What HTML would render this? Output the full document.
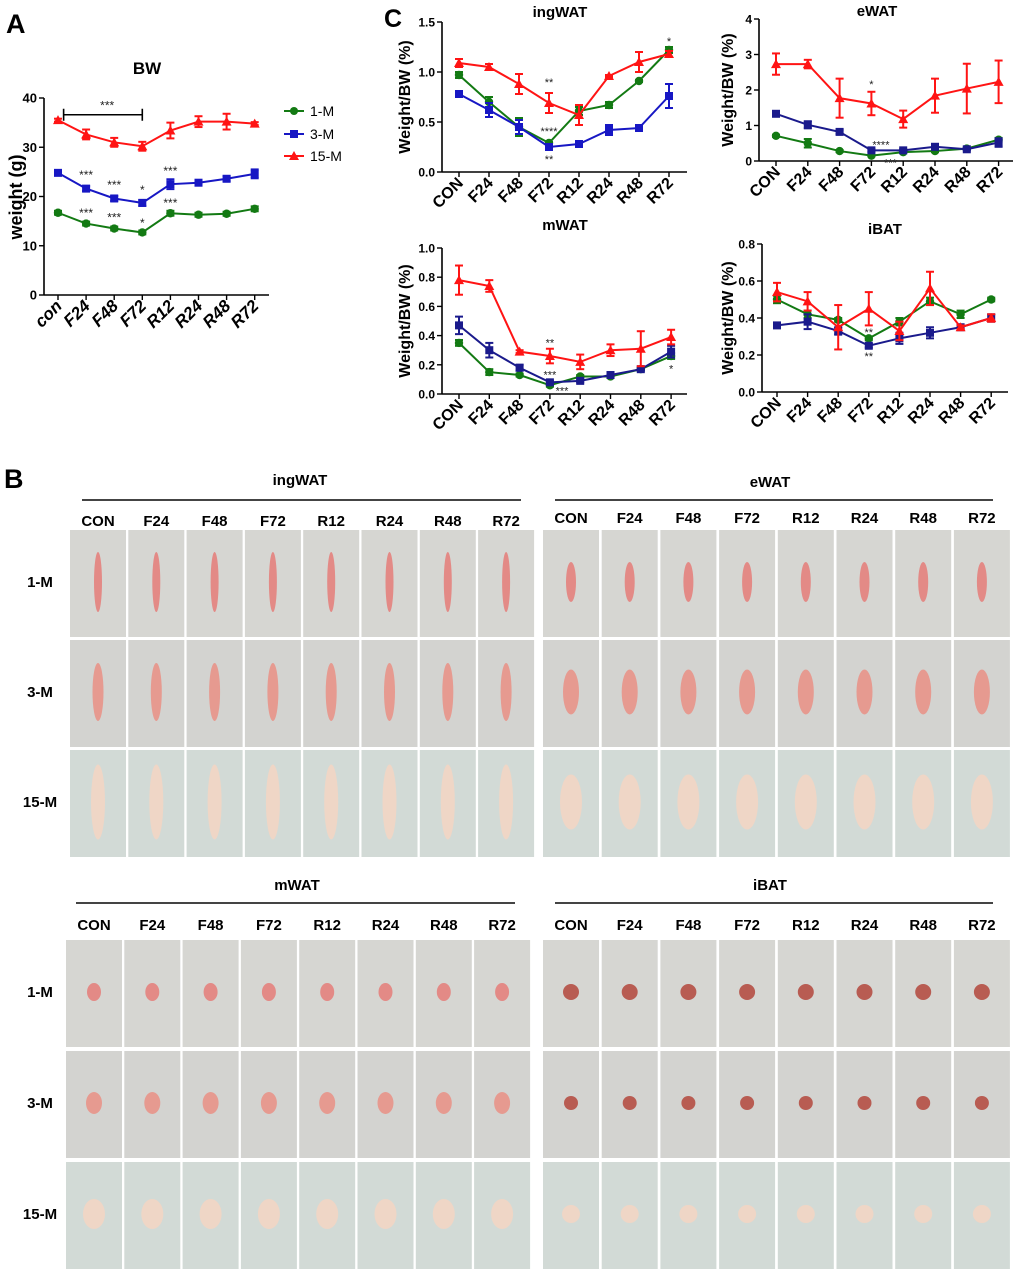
<!DOCTYPE html>
<html><head><meta charset="utf-8">
<style>
html,body{margin:0;padding:0;background:#fff;}
svg{display:block;font-family:"Liberation Sans",Arial,sans-serif;}
</style></head>
<body>
<svg id="fig" width="1020" height="1274" viewBox="0 0 1020 1274" xmlns="http://www.w3.org/2000/svg">
<rect width="1020" height="1274" fill="#fff"/>
<text x="6" y="33" font-size="27" font-weight="bold">A</text>
<text x="384" y="27" font-size="25" font-weight="bold">C</text>
<text x="4" y="488" font-size="27" font-weight="bold">B</text>
<g id="charts"></g>
<g id="photos"></g>
</svg>
<script>
const NS='http://www.w3.org/2000/svg';
const catsA=['con','F24','F48','F72','R12','R24','R48','R72'];
const catsC=['CON','F24','F48','F72','R12','R24','R48','R72'];
const seriesNames=['1-M','3-M','15-M'];
// Panel A: BW
const bw1=[16.7,14.5,13.5,12.7,16.6,16.3,16.5,17.5];
const bw1e=[0.4,0.4,0.4,0.4,0.5,0.4,0.4,0.5];
const bw3=[24.8,21.6,19.6,18.7,22.5,22.8,23.6,24.6];
const bw3e=[0.5,0.5,0.5,0.6,1.0,0.5,0.5,0.9];
const bw15=[35.5,32.6,31.0,30.2,33.4,35.2,35.2,34.8];
const bw15e=[0.3,1.0,0.9,0.9,1.6,1.1,1.6,0.3];
const bwTicks=[0,10,20,30,40];
// ingWAT
const ing1=[0.97,0.70,0.45,0.29,0.61,0.67,0.91,1.22];
const ing1e=[0.03,0.05,0.09,0.01,0.04,0.03,0.01,0.03];
const ing3=[0.78,0.62,0.45,0.25,0.28,0.42,0.44,0.76];
const ing3e=[0.03,0.07,0.07,0.02,0.02,0.05,0.03,0.12];
const ing15=[1.09,1.05,0.88,0.69,0.57,0.96,1.10,1.18];
const ing15e=[0.04,0.03,0.10,0.10,0.10,0.01,0.10,0.03];
const ingTicks=[0,0.5,1.0,1.5];
// eWAT
const ew1=[0.71,0.50,0.28,0.15,0.25,0.28,0.35,0.60];
const ew1e=[0.03,0.12,0.03,0.02,0.03,0.03,0.03,0.05];
const ew3=[1.33,1.02,0.82,0.30,0.30,0.40,0.33,0.52];
const ew3e=[0.04,0.10,0.06,0.04,0.03,0.08,0.03,0.12];
const ew15=[2.73,2.73,1.77,1.62,1.18,1.84,2.04,2.23];
const ew15e=[0.30,0.12,0.55,0.33,0.24,0.48,0.70,0.60];
const ewTicks=[0,1,2,3,4];
// mWAT
const mw1=[0.35,0.15,0.13,0.06,0.12,0.12,0.17,0.26];
const mw1e=[0.02,0.02,0.01,0.01,0.01,0.01,0.01,0.02];
const mw3=[0.47,0.30,0.18,0.08,0.09,0.13,0.17,0.29];
const mw3e=[0.06,0.05,0.02,0.01,0.01,0.01,0.01,0.04];
const mw15=[0.78,0.74,0.29,0.26,0.22,0.30,0.31,0.39];
const mw15e=[0.10,0.04,0.01,0.05,0.05,0.04,0.12,0.05];
const mwTicks=[0,0.2,0.4,0.6,0.8,1.0];
// iBAT
const ib1=[0.50,0.42,0.39,0.29,0.38,0.49,0.42,0.50];
const ib1e=[0.02,0.02,0.01,0.01,0.02,0.02,0.02,0.01];
const ib3=[0.36,0.38,0.33,0.25,0.29,0.32,0.35,0.40];
const ib3e=[0.01,0.04,0.02,0.01,0.03,0.03,0.01,0.02];
const ib15=[0.54,0.49,0.35,0.45,0.33,0.56,0.35,0.40];
const ib15e=[0.05,0.05,0.12,0.09,0.05,0.09,0.01,0.02];
const ibTicks=[0,0.2,0.4,0.6,0.8];

const G='#137a13',B='#1717c4',R='#ff1414';
const root=document.getElementById('charts');
function el(tag,attrs,parent){const e=document.createElementNS(NS,tag);for(const k in attrs)e.setAttribute(k,attrs[k]);(parent||root).appendChild(e);return e;}
function txt(s,attrs,parent){const e=el('text',attrs,parent);e.textContent=s;return e;}

function chart(o){
  const g=el('g',{});
  
  
  const vmax=o.ticks[o.ticks.length-1];
  const ys=v=>o.y0-(v/vmax)*(o.y0-o.yTop);
  const xs=i=>o.cx0+i*o.step;
  const ya=el('line',{x1:o.ax,y1:o.yTop,x2:o.ax,y2:o.y0,stroke:'#000','stroke-width':1.6},g);
  
  
  const xa=el('line',{x1:o.ax,y1:o.y0,x2:o.axEnd,y2:o.y0,stroke:'#000','stroke-width':1.6},g);
  
  
  o.ticks.forEach(t=>{
    el('line',{x1:o.ax-5,y1:ys(t),x2:o.ax,y2:ys(t),stroke:'#000','stroke-width':1.4},g);
    const tl=txt(o.fmt(t),{x:o.ax-7,y:ys(t)+4.5,'font-size':o.tfs,'font-weight':'bold','text-anchor':'end'},g);
    
    
  });
  o.cats.forEach((c,i)=>{
    el('line',{x1:xs(i),y1:o.y0,x2:xs(i),y2:o.y0+5,stroke:'#000','stroke-width':1.4},g);
    const lx=xs(i)+5,ly=o.y0+12;
    const xl=txt(c,{x:lx,y:ly,'font-size':o.xfs,'font-weight':'bold','font-style':o.italic?'italic':'normal','text-anchor':'end',transform:`rotate(-45 ${lx} ${ly})`},g);
    
    
  });
  const yt=txt(o.ylabel,{x:o.ylx,y:o.yly,'font-size':o.yfs,'font-weight':'bold','text-anchor':'middle',transform:`rotate(-90 ${o.ylx} ${o.yly})`},g);
  
  
  const tt=txt(o.title,{x:o.tx,y:o.ty,'font-size':o.titfs,'font-weight':'bold','text-anchor':'middle'},g);
  
  
  o.series.forEach((s,si)=>{
    const sg=el('g',{},g);
    
    
    const pts=s.v.map((v,i)=>xs(i)+','+ys(v)).join(' ');
    el('polyline',{points:pts,fill:'none',stroke:s.c,'stroke-width':2},sg);
    s.v.forEach((v,i)=>{
      const x=xs(i),y=ys(v),e=s.e[i];
      el('line',{x1:x,y1:ys(v+e),x2:x,y2:ys(v-e),stroke:s.c,'stroke-width':2},sg);
      el('line',{x1:x-4,y1:ys(v+e),x2:x+4,y2:ys(v+e),stroke:s.c,'stroke-width':2},sg);
      el('line',{x1:x-4,y1:ys(v-e),x2:x+4,y2:ys(v-e),stroke:s.c,'stroke-width':2},sg);
      let m;
      if(s.m==='c') m=el('circle',{cx:x,cy:y,r:4.2,fill:s.c},sg);
      else if(s.m==='s') m=el('rect',{x:x-4,y:y-4,width:8,height:8,fill:s.c},sg);
      else m=el('polygon',{points:`${x},${y-5} ${x-5},${y+4} ${x+5},${y+4}`,fill:s.c},sg);
      
      
    });
  });
  (o.stars||[]).forEach(st=>{
    const a=txt(st[2],{x:xs(st[0]),y:ys(st[1])+5,'font-size':o.sfs,'text-anchor':'middle',fill:'#222'},g);
    
    
  });
  return {g,xs,ys};
}
const f1=t=>t.toFixed(1), f0=t=>String(t);
const A=chart({name:'bw',ax:44,axEnd:269,y0:295,yTop:98,ticks:bwTicks,fmt:f0,tfs:13,cx0:58,step:28.1,cats:catsA,xfs:17,italic:true,
  ylabel:'weight (g)',ylx:22,yly:197,yfs:18,title:'BW',tx:147,ty:74,titfs:17,sfs:12,
  series:[{v:bw1,e:bw1e,c:G,m:'c'},{v:bw3,e:bw3e,c:B,m:'s'},{v:bw15,e:bw15e,c:R,m:'t'}],
  stars:[[1,24.6,'***'],[2,22.5,'***'],[3,21.5,'*'],[4,25.4,'***'],[1,16.9,'***'],[2,15.9,'***'],[3,14.8,'*'],[4,18.9,'***'],[1.75,38.7,'***']]});
(function(){const g=A.g;const y=A.ys(36.6);
 const br=el('path',{d:`M${A.xs(0.2)},${y-6} V${y+6} M${A.xs(0.2)},${y} H${A.xs(3)} M${A.xs(3)},${y-6} V${y+6}`,stroke:'#000','stroke-width':1.6,fill:'none'},g);
 
 })();
(function(){const lg=el('g',{});
 
 
 const cols=[G,B,R],ys=[111,134,156];
 seriesNames.forEach((n,i)=>{
  const e=el('g',{},lg);
  
  
  el('line',{x1:284,y1:ys[i],x2:304,y2:ys[i],stroke:cols[i],'stroke-width':2},e);
  if(i===0) el('circle',{cx:294,cy:ys[i],r:4,fill:cols[i]},e);
  else if(i===1) el('rect',{x:290,y:ys[i]-4,width:8,height:8,fill:cols[i]},e);
  else el('polygon',{points:`294,${ys[i]-5} 289,${ys[i]+4} 299,${ys[i]+4}`,fill:cols[i]},e);
  txt(n,{x:310,y:ys[i]+5,'font-size':14},e);
 });})();
chart({name:'ingwat',ax:442,axEnd:687,y0:172,yTop:22,ticks:ingTicks,fmt:f1,tfs:12,cx0:459,step:30,cats:catsC,xfs:16,
  ylabel:'Weight/BW (%)',ylx:410,yly:97,yfs:16,title:'ingWAT',tx:560,ty:17,titfs:15,sfs:11,
  series:[{v:ing1,e:ing1e,c:G,m:'c'},{v:ing3,e:ing3e,c:B,m:'s'},{v:ing15,e:ing15e,c:R,m:'t'}],
  stars:[[3,0.91,'**'],[3,0.42,'****'],[3,0.14,'**'],[7,1.32,'*']]});
chart({name:'ewat',ax:759,axEnd:1013,y0:161,yTop:19,ticks:ewTicks,fmt:f0,tfs:12,cx0:776,step:31.8,cats:catsC,xfs:16,
  ylabel:'Weight/BW (%)',ylx:733,yly:90,yfs:16,title:'eWAT',tx:877,ty:16,titfs:15,sfs:11,
  series:[{v:ew1,e:ew1e,c:G,m:'c'},{v:ew3,e:ew3e,c:'#1a1a8c',m:'s'},{v:ew15,e:ew15e,c:R,m:'t'}],
  stars:[[3,2.2,'*'],[3.3,0.5,'****'],[3.6,-0.02,'***']]});
chart({name:'mwat',ax:442,axEnd:687,y0:394,yTop:248,ticks:mwTicks,fmt:f1,tfs:12,cx0:459,step:30.3,cats:catsC,xfs:16,
  ylabel:'Weight/BW (%)',ylx:410,yly:321,yfs:16,title:'mWAT',tx:565,ty:230,titfs:15,sfs:11,
  series:[{v:mw1,e:mw1e,c:G,m:'c'},{v:mw3,e:mw3e,c:'#1a1a8c',m:'s'},{v:mw15,e:mw15e,c:R,m:'t'}],
  stars:[[3,0.36,'**'],[3,0.14,'***'],[3.4,0.03,'***'],[7,0.18,'*']]});
chart({name:'ibat',ax:762,axEnd:1008,y0:392,yTop:244,ticks:ibTicks,fmt:f1,tfs:12,cx0:777,step:30.6,cats:catsC,xfs:16,
  ylabel:'Weight/BW (%)',ylx:733,yly:318,yfs:16,title:'iBAT',tx:885,ty:234,titfs:15,sfs:11,
  series:[{v:ib1,e:ib1e,c:G,m:'c'},{v:ib3,e:ib3e,c:'#1a1a8c',m:'s'},{v:ib15,e:ib15e,c:R,m:'t'}],
  stars:[[3,0.33,'**'],[3,0.2,'**']]});

const ph=document.getElementById('photos');
const rowNames=['1-M','3-M','15-M'];
const gauze=['#d6d6d2','#d3d3d0','#d2dad6'];
const tissue=['#e38a86','#e69a90','#efd6c6'];
function block(o){
  const g=el('g',{},ph);
  
  
  const t=txt(o.name==='ingwat'?'ingWAT':o.name==='ewat'?'eWAT':o.name==='mwat'?'mWAT':'iBAT',{x:o.tx,y:o.ty,'font-size':15,'font-weight':'bold','text-anchor':'middle'},g);
  
  
  el('line',{x1:o.l1,y1:o.ly,x2:o.l2,y2:o.ly,stroke:'#444','stroke-width':2},g);
  catsC.forEach((c,i)=>{
    const h=txt(c,{x:o.x0+i*o.step+28,y:o.hy,'font-size':15,'font-weight':'bold','text-anchor':'middle'},g);
    
    
  });
  o.rows.forEach((ry,r)=>{
    if(o.labels){const rl=txt(rowNames[r],{x:40,y:ry+57,'font-size':15,'font-weight':'bold','text-anchor':'middle'},g);
      
      }
    for(let i=0;i<8;i++){
      const x=o.x0+i*o.step;
      const p=el('g',{},g);
      
      
      el('rect',{x:x,y:ry,width:56,height:107,fill:gauze[r]},p);
      const w=o.bw[r], hh=o.bh[r];
      el('ellipse',{cx:x+28,cy:ry+52,rx:w/2,ry:hh/2,fill:o.dark&&r<2?'#b85c52':tissue[r]},p);
    }
  });
}
block({name:'ingwat',tx:300,ty:485,l1:82,l2:521,ly:500,hy:526,x0:70,step:58.3,rows:[530,640,750],labels:true,bw:[8,11,14],bh:[60,58,75]});
block({name:'ewat',tx:770,ty:487,l1:555,l2:993,ly:500,hy:523,x0:543,step:58.7,rows:[530,640,750],labels:false,bw:[10,16,22],bh:[40,45,55]});
block({name:'mwat',tx:297,ty:890,l1:76,l2:515,ly:903,hy:930,x0:66,step:58.3,rows:[940,1051,1162],labels:true,bw:[14,16,22],bh:[18,22,30]});
block({name:'ibat',tx:770,ty:890,l1:555,l2:993,ly:903,hy:930,x0:543,step:58.7,rows:[940,1051,1162],labels:false,bw:[16,14,18],bh:[16,14,18],dark:true});
</script>
</body></html>
